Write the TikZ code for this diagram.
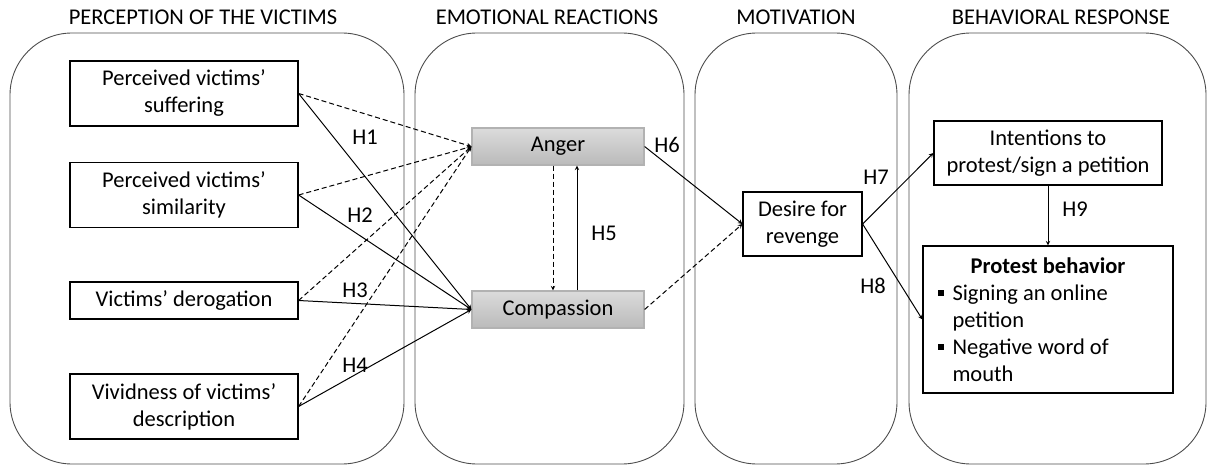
\documentclass[tikz,border=0pt]{standalone}
\usepackage{fontspec}
\setmainfont{Carlito}
\usetikzlibrary{arrows}

\newcommand{\sqbul}{\makebox[15pt][l]{\rule[4pt]{6pt}{6pt}}}

\begin{document}
\begin{tikzpicture}[
            x = 1pt, y = -1pt, % one unit per pixel
            > = stealth, % arrow head style
            line width = 1pt,
            font = \fontsize{22.5}{27}\selectfont
        ]

        \tikzstyle{panel}=[
            draw = black!70,
            line width = 0.9pt,
            rounded corners = 62pt
        ]
        \tikzstyle{box}=[
            draw = black,
            line width = 1.2pt,
            fill = white,
            align = center,
            minimum width = 228pt,
            minimum height = 65pt
        ]
        \tikzstyle{emo}=[
            draw = black!30,
            line width = 1.2pt,
            top color = black!14,
            bottom color = black!27,
            minimum width = 172pt,
            minimum height = 37pt
        ]
        \tikzstyle{neg}=[dash pattern = on 5pt off 3pt]

        \useasboundingbox (0,0) rectangle (1207,465);

        % columns
        \draw[panel] (10,33) rectangle (404,464);
        \draw[panel] (415,33) rectangle (684,464);
        \draw[panel] (695,33) rectangle (897,464);
        \draw[panel] (909,33) rectangle (1206,464);

        \node (t1) at (203,17) {PERCEPTION OF THE VICTIMS};
        \node (t2) at (547,17) {EMOTIONAL REACTIONS};
        \node (t3) at (796,17) {MOTIVATION};
        \node (t4) at (1061,17) {BEHAVIORAL RESPONSE};

        \node[box] (suffer) at (184,93.5) {Perceived victims'\\suffering};
        \node[box] (simil) at (184,195) {Perceived victims'\\similarity};
        \node[box, minimum height = 37pt] (derog) at (184,300.5) {Victims' derogation};
        \node[box] (vivid) at (184,406.5) {Vividness of victims'\\description};

        \node[emo] (anger) at (558,146.5) {Anger};
        \node[emo] (compas) at (558,309.5) {Compassion};

        \node[box, minimum width = 119pt, minimum height = 64pt] (desire) at (802.5,224) {Desire for\\revenge};

        \node[box, minimum height = 64pt] (intent) at (1048,153) {Intentions to\\protest/sign a petition};
        \node[box, minimum width = 250pt, minimum height = 147pt, align = left] (protest) at (1048,319.5)
            {\makebox[221pt]{\textbf{Protest behavior}}\\
             \sqbul Signing an online\\
             \hspace*{15pt}petition\\
             \sqbul Negative word of\\
             \hspace*{15pt}mouth};

        % hypotheses
        \path[->] (suffer.east) edge (compas.west);
        \path[->] (simil.east) edge (compas.west);
        \path[->] (derog.east) edge (compas.west);
        \path[->] (vivid.east) edge (compas.west);

        \path[->, neg] (suffer.east) edge (anger.west);
        \path[->, neg] (simil.east) edge (anger.west);
        \path[->, neg] (derog.east) edge (anger.west);
        \path[->, neg] (vivid.east) edge (anger.west);

        \path[->, neg] (anger.south -| 553,0) edge (compas.north -| 553,0);
        \path[->] (compas.north -| 577,0) edge (anger.south -| 577,0);

        \path[->] (anger.east) edge (desire.west);
        \path[->, neg] (compas.east) edge (desire.west);
        \path[->] (desire.east) edge (intent.west);
        \path[->] (desire.east) edge (protest.west);
        \path[->] (intent.south) edge (protest.north);

        \node (h1) at (365,137) {H1};
        \node (h2) at (360,215) {H2};
        \node (h3) at (355,290) {H3};
        \node (h4) at (355,365) {H4};
        \node (h5) at (604,233) {H5};
        \node (h6) at (667,145) {H6};
        \node (h7) at (876,177) {H7};
        \node (h8) at (873,286) {H8};
        \node (h9) at (1075,209) {H9};

    \end{tikzpicture}
\end{document}
